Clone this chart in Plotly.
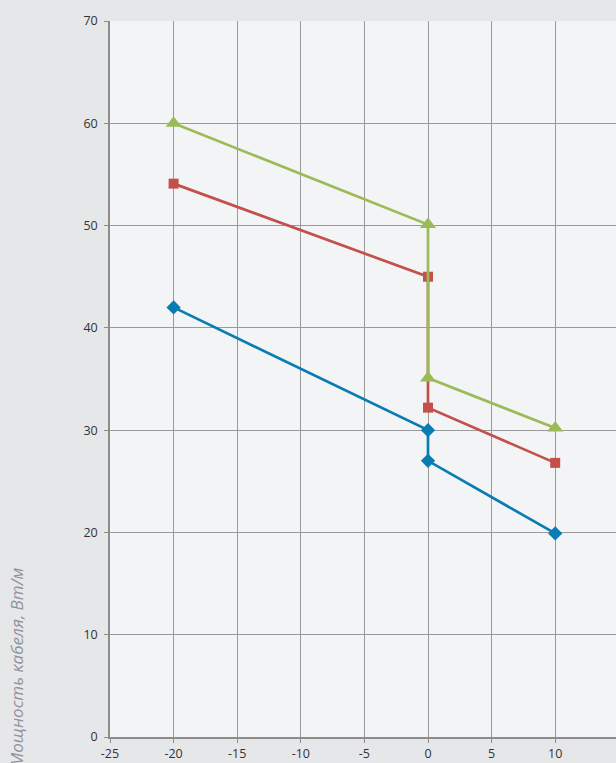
import plotly.graph_objects as go

x_blue = [-20, 0, 0, 10]
y_blue = [42, 30, 27, 19.9]
x_red = [-20, 0, 0, 10]
y_red = [54.1, 45, 32.2, 26.8]
x_green = [-20, 0, 0, 10]
y_green = [60, 50.1, 35.1, 30.2]

x_ticks = [-25, -20, -15, -10, -5, 0, 5, 10]
y_ticks = [0, 10, 20, 30, 40, 50, 60, 70]

W, H = 616, 763
L, R, T, B = 110, 0, 21, 26

fig = go.Figure()
fig.add_trace(go.Scatter(x=x_blue, y=y_blue, mode="lines+markers",
                         line=dict(color="#0a7cb4", width=2.7),
                         marker=dict(symbol="diamond", size=11, color="#0a7cb4"),
                         showlegend=False))
fig.add_trace(go.Scatter(x=x_red, y=y_red, mode="lines+markers",
                         line=dict(color="#c4504c", width=2.7),
                         marker=dict(symbol="square", size=10, color="#c4504c"),
                         showlegend=False))
fig.add_trace(go.Scatter(x=x_green, y=y_green, mode="lines+markers",
                         line=dict(color="#9bbb59", width=2.7),
                         marker=dict(symbol="triangle-up", size=14, color="#9bbb59"),
                         showlegend=False))

fig.update_layout(
    width=W, height=H,
    margin=dict(l=L, r=R, t=T, b=B, pad=0),
    paper_bgcolor="#e6e7e9",
    plot_bgcolor="#f3f4f6",
    font=dict(family="Open Sans", size=12, color="#333333"),
    xaxis=dict(range=[-25, 14.78], tickvals=x_ticks, ticktext=[str(v) for v in x_ticks],
               showgrid=True, gridcolor="#9a9a9a", gridwidth=1.4,
               showline=True, linecolor="#8c8c8c", linewidth=1.5,
               ticks="outside", ticklen=4, tickcolor="#8c8c8c",
               zeroline=False, tickfont=dict(size=12.5, color="#333333")),
    yaxis=dict(range=[0, 70], tickvals=y_ticks, ticktext=[str(v) for v in y_ticks],
               showgrid=True, gridcolor="#9a9a9a", gridwidth=1.4,
               showline=True, linecolor="#8c8c8c", linewidth=1.5,
               ticks="outside", ticklen=4, tickcolor="#8c8c8c",
               ticklabelstandoff=4,
               zeroline=False, tickfont=dict(size=12.5, color="#333333")),
)

pw = W - L - R
ph = H - T - B
fig.add_annotation(
    text="<i>Мощность кабеля, Вт/м</i>",
    xref="paper", yref="paper",
    x=(16 - L) / pw, y=(H - 667 - B) / ph,
    xanchor="center", yanchor="middle",
    textangle=-90, showarrow=False,
    font=dict(family="Open Sans", size=17, color="#8e949b"),
)

fig.write_html("out.html", config={"displayModeBar": False},
               post_script="document.body.style.margin='0';document.body.style.padding='0';document.body.style.overflow='hidden';")
